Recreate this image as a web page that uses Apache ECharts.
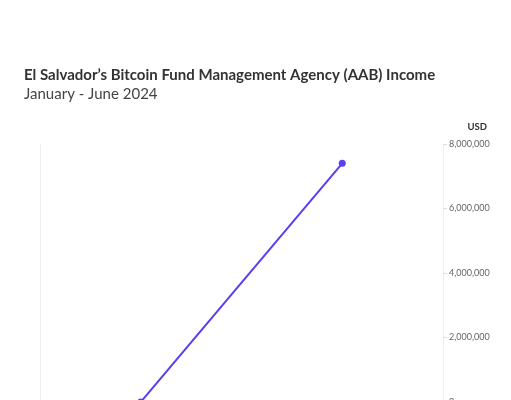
<!DOCTYPE html>
<html><head><meta charset="utf-8">
<script src="https://cdn.jsdelivr.net/npm/echarts@6/dist/echarts.min.js"></script>
<style>html,body{margin:0;padding:0;background:#fff}#c{width:511px;height:400px}</style>
</head><body><div id="c"></div>
<script>
var months = ['Jan', 'Feb', 'Mar', 'Apr', 'May', 'Jun'];
var income = [null, 0, null, null, 7400000, null];
var yTicks = { min: 0, max: 8000000, interval: 2000000 };
var titleText = 'El Salvador\u2019s Bitcoin Fund Management Agency (AAB) Income';
var subtitleText = 'January - June 2024';
var unitText = 'USD';

var chart = echarts.init(document.getElementById('c'), null, { renderer: 'canvas' });
var FONT = 'Lato, "Noto Sans", sans-serif';
chart.setOption({
  animation: false,
  backgroundColor: '#fff',
  title: {
    text: titleText, subtext: subtitleText,
    left: 19, top: 63, itemGap: 4,
    textStyle: { fontFamily: FONT, fontSize: 15, fontWeight: 'bold', color: '#333' },
    subtextStyle: { fontFamily: FONT, fontSize: 15, color: '#444' }
  },
  graphic: [{
    type: 'text', right: 24, top: 122,
    style: { text: unitText, font: 'bold 9.5px Lato, "Noto Sans", sans-serif', fill: '#333' }
  }],
  grid: { left: 40, right: 68, top: 144, height: 258, outerBoundsMode: 'none', containLabel: false },
  xAxis: {
    type: 'category', data: months, boundaryGap: true,
    axisLine: { show: false }, axisTick: { show: false }, axisLabel: { show: false },
    splitLine: { show: false }
  },
  yAxis: [{
    type: 'value', position: 'right', min: yTicks.min, max: yTicks.max, interval: yTicks.interval,
    axisLine: { show: true, lineStyle: { color: '#eeeeee', width: 1 } },
    axisTick: { show: true, length: 4, lineStyle: { color: '#dddddd' } },
    axisLabel: { fontFamily: FONT, fontSize: 9, color: '#666', margin: 6 },
    splitLine: { show: false }
  }, {
    type: 'value', position: 'left', min: yTicks.min, max: yTicks.max, interval: yTicks.interval,
    axisLine: { show: true, lineStyle: { color: '#eeeeee', width: 1 } },
    axisTick: { show: false }, axisLabel: { show: false }, splitLine: { show: false }
  }],
  series: [{
    type: 'line', data: income, connectNulls: true,
    symbol: 'circle', symbolSize: 7, showSymbol: true,
    lineStyle: { color: '#5b3ef0', width: 2 },
    itemStyle: { color: '#5b3ef0' }
  }]
});
</script></body></html>
